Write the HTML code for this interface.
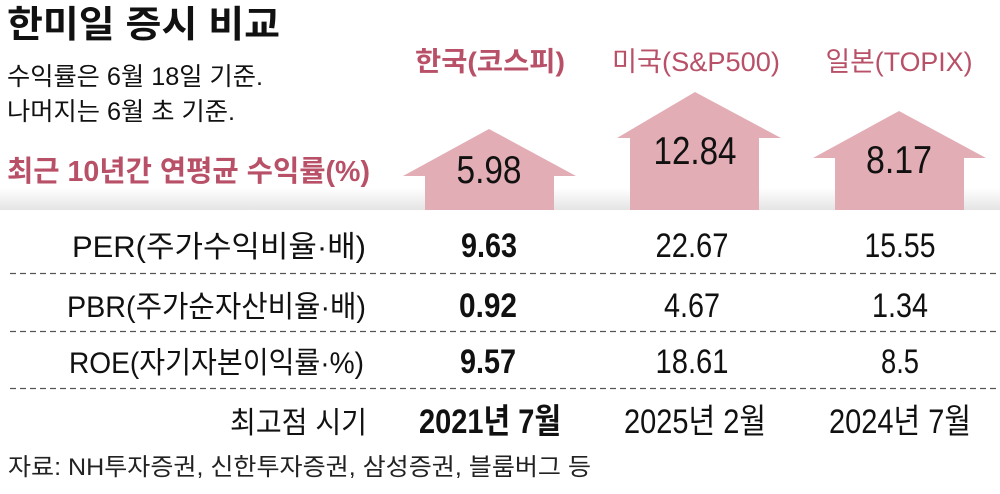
<!DOCTYPE html>
<html><head><meta charset="utf-8"><style>
body{margin:0;background:#fff}
svg text{font-family:"Liberation Sans","Noto Sans CJK KR",sans-serif}
</style></head><body>
<svg width="1000" height="489" viewBox="0 0 1000 489" xmlns="http://www.w3.org/2000/svg">
<defs><linearGradient id="g" x1="0" y1="0" x2="0" y2="1"><stop offset="0" stop-color="#fff"/><stop offset="1" stop-color="#e4e4e4"/></linearGradient></defs>
<rect x="0" y="188" width="1000" height="22" fill="url(#g)"/>
<g fill="#e2adb5">
<polygon points="489,129 576,176 554,176 554,210 425,210 425,176 403,176"/>
<polygon points="695,92 781,138 759,138 759,210 630,210 630,138 617,138"/>
<polygon points="899,111 986,158 964,158 964,210 835,210 835,158 813,158"/>
</g>
<text x="7" y="37" font-size="37" font-weight="bold" fill="#111" textLength="273" lengthAdjust="spacingAndGlyphs">한미일 증시 비교</text>
<text x="7" y="85" font-size="25" fill="#111" textLength="256" lengthAdjust="spacingAndGlyphs">수익률은 6월 18일 기준.</text>
<text x="7" y="120" font-size="25" fill="#111" textLength="228" lengthAdjust="spacingAndGlyphs">나머지는 6월 초 기준.</text>
<text x="7" y="181" font-size="29" font-weight="bold" fill="#b85068" textLength="363" lengthAdjust="spacingAndGlyphs">최근 10년간 연평균 수익률(%)</text>
<g font-size="27" fill="#b85068" text-anchor="middle">
<text x="490" y="71" font-weight="bold" textLength="150" lengthAdjust="spacingAndGlyphs">한국(코스피)</text>
<text x="696" y="71" textLength="168" lengthAdjust="spacingAndGlyphs">미국(S&amp;P500)</text>
<text x="899" y="71" textLength="147" lengthAdjust="spacingAndGlyphs">일본(TOPIX)</text>
</g>
<g font-size="39" fill="#111" text-anchor="middle">
<text x="489" y="183" textLength="65" lengthAdjust="spacingAndGlyphs">5.98</text>
<text x="695" y="164" textLength="83" lengthAdjust="spacingAndGlyphs">12.84</text>
<text x="899" y="173" textLength="66" lengthAdjust="spacingAndGlyphs">8.17</text>
</g>
<g stroke="#555" stroke-width="1.2" stroke-dasharray="6,4">
<line x1="10" y1="273.5" x2="1000" y2="273.5"/>
<line x1="10" y1="331.5" x2="1000" y2="331.5"/>
<line x1="10" y1="388.5" x2="1000" y2="388.5"/>
</g>
<g font-size="30" fill="#111" text-anchor="end">
<text x="366" y="257" textLength="294" lengthAdjust="spacingAndGlyphs">PER(주가수익비율·배)</text>
<text x="366" y="317" textLength="299" lengthAdjust="spacingAndGlyphs">PBR(주가순자산비율·배)</text>
<text x="364" y="373" textLength="295" lengthAdjust="spacingAndGlyphs">ROE(자기자본이익률·%)</text>
<text x="367" y="433" textLength="137" lengthAdjust="spacingAndGlyphs">최고점 시기</text>
</g>
<g font-size="34" fill="#111" text-anchor="middle">
<text x="489" y="257" font-weight="bold" textLength="56" lengthAdjust="spacingAndGlyphs">9.63</text>
<text x="488" y="317" font-weight="bold" textLength="58" lengthAdjust="spacingAndGlyphs">0.92</text>
<text x="488" y="373" font-weight="bold" textLength="56" lengthAdjust="spacingAndGlyphs">9.57</text>
<text x="490" y="433" font-weight="bold" textLength="142" lengthAdjust="spacingAndGlyphs">2021년 7월</text>
<text x="692" y="257" textLength="73" lengthAdjust="spacingAndGlyphs">22.67</text>
<text x="692" y="317" textLength="56" lengthAdjust="spacingAndGlyphs">4.67</text>
<text x="692" y="373" textLength="73" lengthAdjust="spacingAndGlyphs">18.61</text>
<text x="695" y="433" textLength="142" lengthAdjust="spacingAndGlyphs">2025년 2월</text>
<text x="900" y="257" textLength="71" lengthAdjust="spacingAndGlyphs">15.55</text>
<text x="900" y="317" textLength="56" lengthAdjust="spacingAndGlyphs">1.34</text>
<text x="900" y="373" textLength="38" lengthAdjust="spacingAndGlyphs">8.5</text>
<text x="900" y="433" textLength="142" lengthAdjust="spacingAndGlyphs">2024년 7월</text>
</g>
<text x="8" y="475" font-size="24" fill="#222" textLength="583" lengthAdjust="spacingAndGlyphs">자료: NH투자증권, 신한투자증권, 삼성증권, 블룸버그 등</text>
</svg>
</body></html>
